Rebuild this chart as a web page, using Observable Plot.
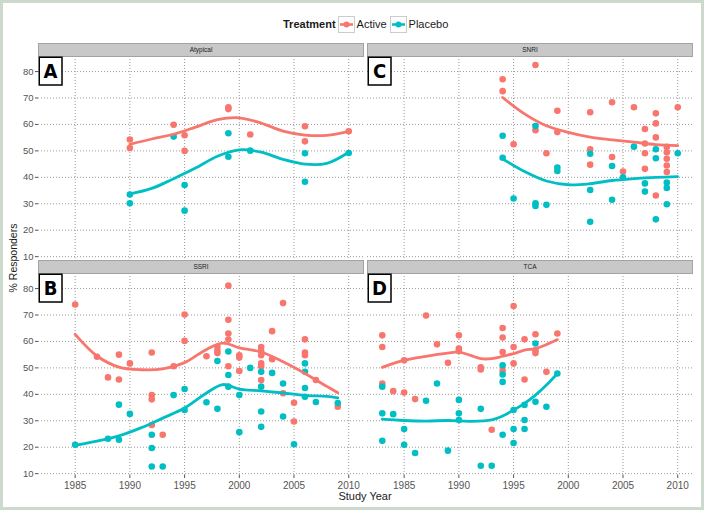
<!DOCTYPE html>
<html>
<head>
<meta charset="utf-8">
<script src="https://cdn.jsdelivr.net/npm/d3@7"></script>
<script src="https://cdn.jsdelivr.net/npm/@observablehq/plot@0.6"></script>
<style>
  body { margin: 0; background: #fff; }
  #wrap { position: relative; width: 704px; height: 510px; overflow: hidden; background: #fff;
          font-family: "Liberation Sans", Arial, sans-serif; }
  #chart { position: absolute; left: 0; top: 0; }
  #frame { position: absolute; left: 0; top: 0; width: 704px; height: 510px; box-sizing: border-box;
           border: 3px solid #cbdacd; pointer-events: none; }
  #legend { position: absolute; left: 283px; top: 15px; height: 18px; display: flex; align-items: center;
            font-size: 11px; color: #1a1a1a; white-space: nowrap; }
  #legend .title { font-weight: bold; margin-right: 2px; }
  #legend svg { display: block; }
  #legend .lab { margin: 0 3px 0 2px; }
  #xtitle { position: absolute; left: 0; width: 730px; top: 490px; text-align: center; font-size: 11px; color: #1a1a1a; }
  #ytitle { position: absolute; left: 13px; top: 258px; transform: translate(-50%, -50%) rotate(-90deg);
            font-size: 10.5px; color: #1a1a1a; white-space: nowrap; }
</style>
</head>
<body>
<div id="wrap">
  <div id="chart"></div>
  <div id="legend"></div>
  <div id="xtitle">Study Year</div>
  <div id="ytitle">% Responders</div>
  <div id="frame"></div>
</div>
<script>
// ---------- data ----------
const treatments = ["Active", "Placebo"];
const treatmentColors = ["#F8766D", "#00BFC4"];
const classes = ["Atypical", "SNRI", "SSRI", "TCA"];
const panelLetters = ["A", "C", "B", "D"];
const xTicks = [1985, 1990, 1995, 2000, 2005, 2010];
const yTicks = [10, 20, 30, 40, 50, 60, 70, 80];

// [study year, % responders]
const atypActive = [[1990,54.3],[1990,51.1],[1994,59.9],[1995,55.9],[1995,50],[1999,66.5],[1999,65.8],[2001,56.2],[2006,59.3],[2006,53.6],[2010,57.4]];
const atypPlacebo = [[1990,33.5],[1990,30.2],[1994,55.4],[1995,37.1],[1995,27.4],[1999,56.7],[1999,47.8],[2001,50.1],[2006,49.1],[2006,38.3],[2010,49.2]];

const snriActive = [[1994,77.1],[1994,72.6],[1995,52.5],[1997,82.5],[1997,57.8],[1998,49.1],[1999,65.2],[1999,57.1],[2002,64.6],[2002,50.6],[2002,44.8],[2004,68.4],[2004,47.7],[2005,42.2],[2006,66.5],[2007,58.3],[2007,52.8],[2007,49.1],[2007,43.2],[2008,64.2],[2008,60.4],[2008,55.1],[2008,33.1],[2009,51.5],[2009,49.5],[2009,47],[2009,44.5],[2009,42],[2010,66.5]];
const snriPlacebo = [[1994,55.7],[1994,47.4],[1995,32],[1997,59.4],[1997,30.2],[1997,29.2],[1998,29.6],[1999,43.7],[1999,42.4],[2002,48.9],[2002,35.2],[2002,23.2],[2004,44.3],[2004,31.5],[2005,40],[2006,51.6],[2007,37.7],[2007,34.6],[2008,50.6],[2008,47.2],[2008,24.1],[2009,38],[2009,36],[2009,29.8],[2010,49.1]];

const ssriActive = [[1985,74],[1987,54.2],[1988,46.4],[1989,45.6],[1989,55],[1990,51.7],[1992,55.8],[1992,39.7],[1992,38.1],[1992,28.4],[1993,24.7],[1994,50.6],[1995,70.2],[1995,60.2],[1997,54.4],[1998,57.9],[1998,56.4],[1998,55.6],[1999,81.1],[1999,68.2],[1999,63],[1999,60.7],[1999,50.6],[2000,54.8],[2000,53.9],[2000,48.8],[2002,57.9],[2002,56.4],[2002,54.8],[2002,51.7],[2002,50.6],[2002,45.4],[2003,63.9],[2003,53.3],[2004,74.5],[2004,40.4],[2005,36.8],[2005,29.7],[2006,60.8],[2006,55.8],[2006,54.8],[2007,45.4],[2009,35.3]];
const ssriPlacebo = [[1985,20.9],[1988,23.2],[1989,22.8],[1989,36.1],[1990,32.6],[1992,24.7],[1992,19.7],[1992,12.7],[1993,12.7],[1994,39.7],[1995,42],[1995,34.1],[1997,37],[1998,52.6],[1998,34.5],[1999,56.2],[1999,47.3],[1999,42.9],[2000,39.7],[2000,25.7],[2001,50],[2002,48.5],[2002,42.9],[2002,33.5],[2002,27.7],[2003,48.1],[2004,44.1],[2004,31.6],[2005,21.1],[2006,51.7],[2006,48.5],[2006,42.4],[2006,39.1],[2007,37.1],[2009,36.7]];

const tcaActive = [[1983,62.3],[1983,57.9],[1983,44.1],[1984,41.2],[1985,52.9],[1985,40.7],[1986,38.2],[1987,69.8],[1988,58.9],[1989,51.9],[1990,62.3],[1990,57.3],[1990,56.4],[1992,50.2],[1992,49.4],[1993,26.6],[1994,65.1],[1994,61.5],[1994,56],[1994,48.9],[1995,73.4],[1995,57.9],[1995,51.7],[1996,60.8],[1996,45.6],[1997,62.7],[1997,56.7],[1997,55.6],[1998,48.5],[1999,63]];
const tcaPlacebo = [[1983,42.9],[1983,32.8],[1983,22.4],[1984,32.5],[1985,26.9],[1985,20.9],[1986,17.8],[1987,37.6],[1988,44.1],[1989,18.7],[1990,37.9],[1990,32.8],[1990,30.3],[1992,34.5],[1992,13],[1993,13],[1994,51],[1994,47.5],[1994,44.7],[1994,24.7],[1995,34.1],[1995,26.9],[1995,21.6],[1996,36],[1996,30.3],[1996,26.9],[1997,59.2],[1997,37.2],[1998,35.3],[1999,47.9]];

// smoothed (loess) curves
const atypActiveFit = [[1990,52.5],[1992,54.5],[1994,56.3],[1996,59],[1998,61.8],[2000,62.5],[2002,60.5],[2004,57.5],[2006,56],[2008,55.9],[2010,57.4]];
const atypPlaceboFit = [[1990,33.7],[1992,35.8],[1994,39.5],[1996,43.5],[1998,48],[2000,50.4],[2002,49.5],[2004,46.8],[2006,45],[2008,45.3],[2010,49.5]];
const snriActiveFit = [[1994,70.2],[1996,64],[1998,59.5],[2000,57],[2002,55.2],[2004,54.2],[2006,53.3],[2008,52.4],[2010,52]];
const snriPlaceboFit = [[1994,47],[1996,42.2],[1998,38.6],[2000,37.2],[2002,37.6],[2004,38.8],[2006,39.5],[2008,40],[2010,40.3]];
const ssriActiveFit = [[1985,62.7],[1987,54.5],[1989,50.3],[1991,49.3],[1993,49.6],[1995,52],[1997,57],[1998.5,59.4],[2000,57.6],[2002,56],[2004,52.3],[2006,47.9],[2008,43],[2009,40.6]];
const ssriPlaceboFit = [[1985,20.7],[1987,22.3],[1989,24.3],[1991,27.3],[1993,31],[1995,34.8],[1997,40.5],[1998.5,43.7],[2000,42],[2002,41.3],[2004,40.5],[2006,39.6],[2008,39.2],[2009,38.7]];
const tcaActiveFit = [[1983,50.2],[1985,52.9],[1987,54.4],[1989,55.6],[1990,56],[1991,54.8],[1992,53.5],[1993,53.5],[1994,54.4],[1995,55.4],[1996,56.7],[1997,57.3],[1998,58.8],[1999,60.7]];
const tcaPlaceboFit = [[1983,30.6],[1985,30.1],[1987,29.9],[1989,30.1],[1991,29.8],[1993,30.3],[1994,31.8],[1995,34.1],[1996,36.6],[1997,39.7],[1998,43.5],[1999,47.9]];

// ---------- build tables ----------
const panels = classes.map((cls, i) => ({cls, letter: panelLetters[i], col: i % 2, row: Math.floor(i / 2)}));
const panelOf = Object.fromEntries(panels.map(p => [p.cls, p]));
const raw = {
  Atypical: [atypActive, atypPlacebo, atypActiveFit, atypPlaceboFit],
  SNRI: [snriActive, snriPlacebo, snriActiveFit, snriPlaceboFit],
  SSRI: [ssriActive, ssriPlacebo, ssriActiveFit, ssriPlaceboFit],
  TCA: [tcaActive, tcaPlacebo, tcaActiveFit, tcaPlaceboFit]
};
const points = [], fits = [];
for (const cls of classes) {
  const p = panelOf[cls];
  treatments.forEach((t, k) => {
    raw[cls][k].forEach(([year, value]) => points.push({cls, treatment: t, year, value, col: p.col, row: p.row}));
    raw[cls][k + 2].forEach(([year, value]) => fits.push({cls, treatment: t, year, value, col: p.col, row: p.row}));
  });
}

// ---------- layout ----------
const W = 704, H = 510, mL = 38, mR = 12, mT = 56, mB = 35, gapX = 4, gapY = 15;
const plotW = W - mL - mR, plotH = H - mT - mB;
const padX = 2 * gapX / (plotW + gapX), padY = 2 * gapY / (plotH + gapY);
const bandW = (plotW - gapX) / 2, bandH = (plotH - gapY) / 2;
const stripH = 13;
const FONT = "'Liberation Sans', Arial, sans-serif";
const CONDENSED = "'Liberation Sans Narrow', 'DejaVu Sans Condensed', 'Roboto Condensed', sans-serif";

const chart = Plot.plot({
  width: W, height: H,
  marginLeft: mL, marginRight: mR, marginTop: mT, marginBottom: mB,
  style: {fontFamily: FONT, fontSize: "10px", background: "transparent", overflow: "visible"},
  x: {domain: [1981.65, 2011.35]},
  y: {domain: [9.3, 85.7]},
  fx: {axis: null, domain: [0, 1], paddingInner: padX, paddingOuter: 0, round: false},
  fy: {axis: null, domain: [0, 1], paddingInner: padY, paddingOuter: 0, round: false},
  color: {domain: treatments, range: treatmentColors},
  marks: [
    Plot.gridY({ticks: yTicks, stroke: "#9a9a9a", strokeOpacity: 1, strokeWidth: 1, strokeDasharray: "1,2"}),
    Plot.gridX({ticks: xTicks, stroke: "#9a9a9a", strokeOpacity: 1, strokeWidth: 1, strokeDasharray: "1,2"}),
    // strip
    Plot.frame({fill: "#c8c8c8", stroke: "#a3a3a3", strokeWidth: 1, insetTop: -stripH, insetBottom: bandH}),
    Plot.text(panels, {fx: "col", fy: "row", text: "cls", frameAnchor: "top", dy: -stripH / 2,
      lineAnchor: "middle", fontSize: 6.5, fill: "#222"}),
    // data
    Plot.dot(points, {fx: "col", fy: "row", x: "year", y: "value", fill: "treatment", r: 3.3, stroke: "none"}),
    Plot.line(fits, {fx: "col", fy: "row", x: "year", y: "value", stroke: "treatment", z: "treatment",
      strokeWidth: 2.8, curve: "catmull-rom"}),
    // panel letters
    Plot.frame({fill: "white", stroke: "black", strokeWidth: 1.5, insetLeft: 0.75, insetTop: 0.75,
      insetRight: bandW - 23.5, insetBottom: bandH - 28.5}),
    Plot.text(panels, {fx: "col", fy: "row", text: "letter", frameAnchor: "top-left", dx: 12, dy: 15,
      textAnchor: "middle", lineAnchor: "middle", fontSize: 20, fontWeight: "bold", fontFamily: CONDENSED, fill: "black"}),
    // axes
    Plot.axisY({ticks: yTicks, tickSize: 3, tickPadding: 2, label: null, fontSize: 9.5, color: "#555"}),
    Plot.axisX({ticks: xTicks, tickFormat: d => String(d), tickSize: 3, tickPadding: 3, label: null, fontSize: 10, color: "#555"})
  ]
});
document.getElementById("chart").append(chart);

// ---------- legend ----------
const legend = document.getElementById("legend");
const title = document.createElement("span");
title.className = "title";
title.textContent = "Treatment";
legend.append(title);
treatments.forEach((t, i) => {
  const ns = "http://www.w3.org/2000/svg";
  const s = document.createElementNS(ns, "svg");
  s.setAttribute("width", 17); s.setAttribute("height", 17);
  s.innerHTML = `<rect x="0.5" y="0.5" width="16" height="16" fill="white" stroke="#cccccc"/>
    <line x1="2" x2="15" y1="8.5" y2="8.5" stroke="${treatmentColors[i]}" stroke-width="2.6"/>
    <circle cx="8.5" cy="8.5" r="3" fill="${treatmentColors[i]}"/>`;
  legend.append(s);
  const lab = document.createElement("span");
  lab.className = "lab";
  lab.textContent = t;
  legend.append(lab);
});
</script>
</body>
</html>
